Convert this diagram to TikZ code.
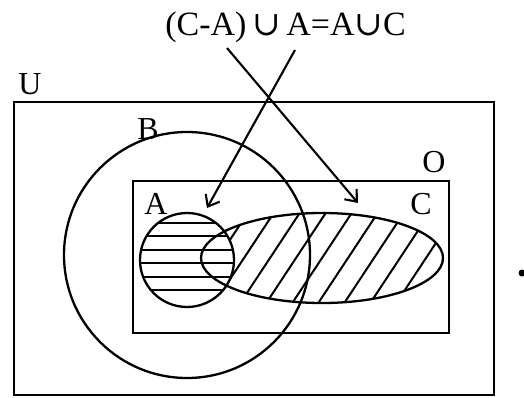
\documentclass[tikz,border=0pt]{standalone}
\usepackage{fontspec}
\setmainfont{Liberation Serif}
\newfontfamily\cupfont{DejaVu Serif}
\usepackage{tikz}
\usetikzlibrary{shapes.geometric, arrows.meta, positioning, calc}
\newcommand{\setcup}{{\cupfont ∪}}
\tikzset{
  setline/.style={draw=black, line width=2.3pt},
  hatchline/.style={draw=black, line width=2pt},
  arrowline/.style={draw=black, line width=2.1pt, -{Straight Barb[length=10pt, width=16pt, line width=2.1pt]}},
  setlabel/.style={inner sep=0pt, font=\fontsize{32}{32}\selectfont}
}

\begin{document}
\begin{tikzpicture}[x=1pt, y=-1pt]
    \useasboundingbox (0,0) rectangle (524,397);
    % universe and the set O
    \node[setline, rectangle, minimum width=480pt, minimum height=293pt] (U) at (254,248.5) {};
    \node[setline, rectangle, minimum width=316pt, minimum height=152pt] (O) at (291,257) {};
    % hatching of A
    \begin{scope}
      \clip (187,260) circle (47);
      \foreach \y in {223,236.4,...,292}
        \draw[hatchline] (130,\y) -- (245,\y);
    \end{scope}
    % hatching of C minus A
    \begin{scope}
      \clip (322,258) ellipse (121 and 45);
      \begin{scope}[even odd rule]
        \clip (0,0) rectangle (524,397) (187,260) circle (47);
        \foreach \x in {192,218,...,478}
          \draw[hatchline] ($(\x,258)+(66,-100)$) -- ($(\x,258)+(-66,100)$);
      \end{scope}
    \end{scope}
    % the sets
    \node[setline, circle, minimum size=246pt] (B) at (187,255) {};
    \node[setline, circle, minimum size=94pt] (A) at (187,260) {};
    \node[setline, ellipse, minimum width=242pt, minimum height=90pt] (C) at (322,258) {};
    % labels
    \node[setlabel] (labU) at (30,84) {U};
    \node[setlabel] (labB) at (148,129) {B};
    \node[setlabel] (labO) at (434,162) {O};
    \node[setlabel] (labA) at (156,204) {A};
    \node[setlabel] (labC) at (421,204) {C};
    \node[setlabel, font=\fontsize{34}{34}\selectfont, anchor=base] (eq) at (285.5,35) {(C-A)\,\setcup\,A=A\setcup C};
    % arrows
    \coordinate (s1) at (227,48);
    \coordinate (t1) at (358,203);
    \coordinate (s2) at (295,50);
    \coordinate (t2) at (207,208);
    \draw[arrowline] (s1) -- (t1);
    \draw[arrowline] (s2) -- (t2);
    \node[circle, fill=black, inner sep=0pt, minimum size=7pt] (dot) at (522,273) {};
  \end{tikzpicture}
\end{document}
